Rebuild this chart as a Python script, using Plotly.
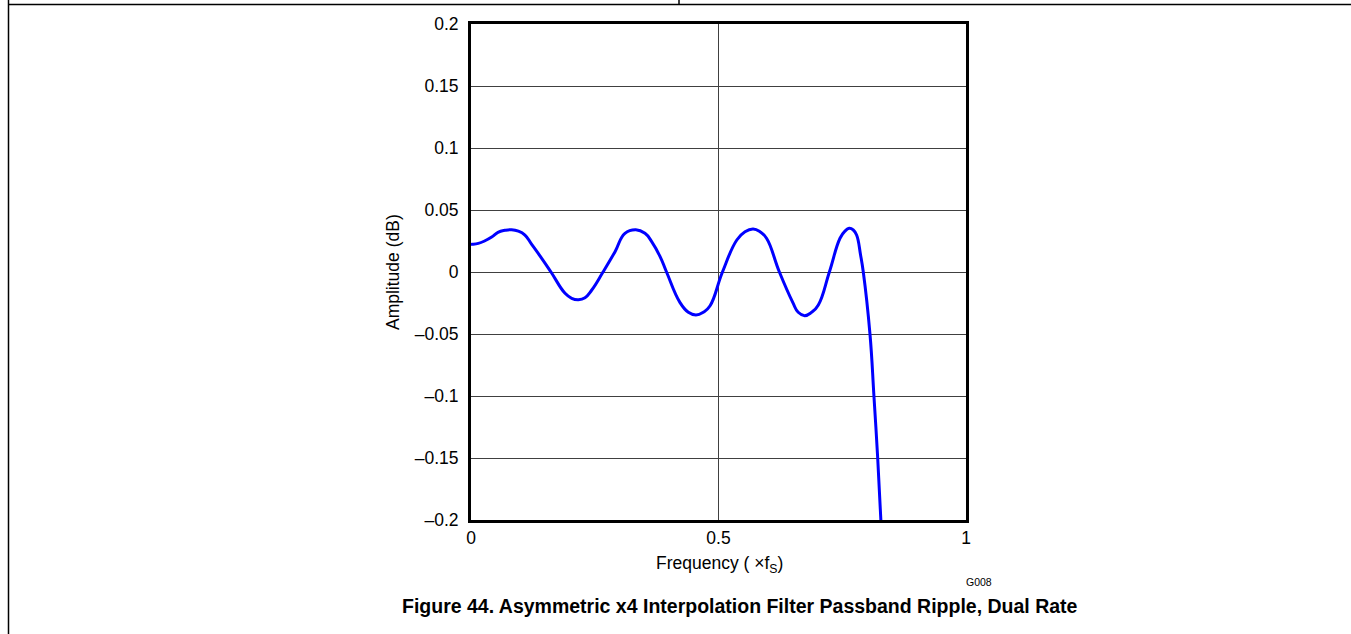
import plotly.graph_objects as go

# Frequency (x fS) and amplitude (dB)
freq = [0.0, 0.0016, 0.0148, 0.0273, 0.0418, 0.0545, 0.0687, 0.082, 0.0956, 0.109, 0.1226,
        0.1428, 0.1616, 0.19, 0.2034, 0.217, 0.2303, 0.244, 0.2667, 0.291, 0.311,
        0.333, 0.3515, 0.365, 0.382, 0.395, 0.422, 0.439, 0.4545, 0.4693, 0.483,
        0.508, 0.537, 0.5535, 0.570, 0.5838, 0.597, 0.623, 0.650, 0.661, 0.674,
        0.688, 0.7017, 0.724, 0.7455, 0.7556, 0.764, 0.7723, 0.779, 0.787, 0.7925,
        0.806, 0.814, 0.8216, 0.828]
amp = [0.0222, 0.0223, 0.0231, 0.025, 0.0282, 0.032, 0.0336, 0.0341, 0.033, 0.0298, 0.0223,
       0.011, 0.0, -0.0172, -0.0212, -0.0223, -0.0207, -0.0145, 0.0, 0.0164, 0.0312,
       0.0341, 0.0312, 0.0245, 0.0124, 0.0, -0.0245, -0.0325, -0.0347, -0.0325, -0.0272,
       0.0, 0.0258, 0.0325, 0.0347, 0.0325, 0.0272, 0.0, -0.0245, -0.0325, -0.0352,
       -0.0325, -0.0266, 0.0, 0.0272, 0.033, 0.0352, 0.0339, 0.0298, 0.0137, 0.0,
       -0.05, -0.1, -0.15, -0.2]

y_tickvals = [0.2, 0.15, 0.1, 0.05, 0, -0.05, -0.1, -0.15, -0.2]
y_ticktext = ["0.2", "0.15", "0.1", "0.05", "0", "\u20130.05", "\u20130.1", "\u20130.15", "\u20130.2"]
x_tickvals = [0, 0.5, 1]
x_ticktext = ["0", "0.5", "1"]

title_text = "<b>Figure 44. Asymmetric x4 Interpolation Filter Passband Ripple, Dual Rate</b>"
x_title = "Frequency ( \u00d7f<sub>S</sub>)"
y_title = "Amplitude (dB)"

W, H = 1351, 634
L, R, T, B = 471, 966, 24, 520

def px(x):
    return (x - L) / (R - L)

def py(y):
    return (B - y) / (B - T)

fig = go.Figure()
fig.add_trace(go.Scatter(x=freq, y=amp, mode="lines",
                         line=dict(color="#0000FF", width=3, shape="spline", smoothing=1.3),
                         hoverinfo="skip", showlegend=False))

font = "Liberation Sans, Arial, sans-serif"
fig.update_layout(
    width=W, height=H,
    margin=dict(l=L, r=W - R, t=T, b=H - B, pad=0),
    paper_bgcolor="white", plot_bgcolor="white",
    font=dict(family=font, size=17.5, color="black"),
    showlegend=False,
    xaxis=dict(range=[0, 1], tickvals=x_tickvals, ticktext=x_ticktext,
               showgrid=True, gridcolor="#404040", gridwidth=1,
               showline=True, linecolor="black", linewidth=3, mirror=True,
               ticks="", zeroline=False, ticklabelstandoff=0,
               tickfont=dict(size=17.5)),
    yaxis=dict(range=[-0.2, 0.2], tickvals=y_tickvals, ticktext=y_ticktext,
               showgrid=True, gridcolor="#404040", gridwidth=1,
               showline=True, linecolor="black", linewidth=3, mirror=True,
               ticks="", zeroline=False, ticklabelstandoff=6,
               tickfont=dict(size=17.5)),
    annotations=[
        dict(text=x_title, xref="paper", yref="paper", x=px(719), y=py(564),
             showarrow=False, font=dict(size=17.5), xanchor="center", yanchor="middle"),
        dict(text=y_title, xref="paper", yref="paper", x=px(393), y=py(272),
             showarrow=False, font=dict(size=17.5), textangle=-90,
             xanchor="center", yanchor="middle"),
        dict(text="G008", xref="paper", yref="paper", x=px(979), y=py(582),
             showarrow=False, font=dict(size=10.5), xanchor="center", yanchor="middle"),
        dict(text=title_text, xref="paper", yref="paper", x=px(740), y=py(606),
             showarrow=False, font=dict(size=19.5), xanchor="center", yanchor="middle"),
    ],
    shapes=[
        dict(type="line", xref="paper", yref="paper", x0=px(8), x1=px(1351), y0=py(4.5), y1=py(4.5),
             line=dict(color="black", width=1.5)),
        dict(type="line", xref="paper", yref="paper", x0=px(8.5), x1=px(8.5), y0=py(0), y1=py(634),
             line=dict(color="black", width=1.5)),
        dict(type="line", xref="paper", yref="paper", x0=px(679), x1=px(679), y0=py(0), y1=py(4.5),
             line=dict(color="black", width=1.5)),
    ],
)

fig.write_html("out.html", config={"displayModeBar": False},
               post_script="document.body.style.margin='0px';document.body.style.overflow='hidden';")
